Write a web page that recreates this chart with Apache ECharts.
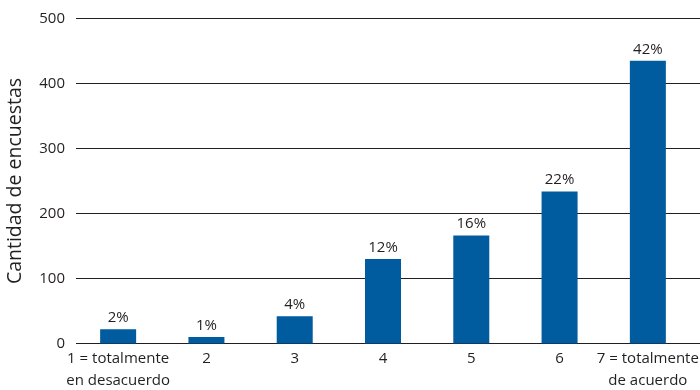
<!DOCTYPE html>
<html><head><meta charset="utf-8">
<script src="https://cdn.jsdelivr.net/npm/echarts@6/dist/echarts.min.js"></script>
<style>html,body{margin:0;padding:0;background:#fff}#c{width:700px;height:390px}</style>
</head><body><div id="c"></div>
<script>
const categories = ['1 = totalmente\nen desacuerdo', '2', '3', '4', '5', '6', '7 = totalmente\nde acuerdo'];
const counts = [22, 10, 42, 130, 166, 234, 435];
const percents = ['2%', '1%', '4%', '12%', '16%', '22%', '42%'];
const yTicks = [0, 100, 200, 300, 400, 500];

const font = '"Open Sans", "Noto Sans", sans-serif';
const chart = echarts.init(document.getElementById('c'));
chart.setOption({
  animation: false,
  grid: [
    {left: 74, right: 8, top: 18.5, bottom: 46.5, outerBoundsMode: 'none', containLabel: false},
    {left: 76, right: 0, top: 18.5, bottom: 46.5, outerBoundsMode: 'none', containLabel: false}
  ],
  xAxis: [
    {type: 'category', gridIndex: 0, data: categories,
     axisLine: {show: false}, axisTick: {show: false},
     axisLabel: {color: '#231f20', fontFamily: font, fontSize: 15, lineHeight: 22, margin: 4, interval: 0}},
    {type: 'value', gridIndex: 1, show: false, min: 0, max: 1}
  ],
  yAxis: [
    {type: 'value', gridIndex: 0, min: yTicks[0], max: yTicks[yTicks.length - 1], interval: 100, show: false},
    {type: 'value', gridIndex: 1, min: yTicks[0], max: yTicks[yTicks.length - 1], interval: 100,
     axisLine: {show: false}, axisTick: {show: false},
     axisLabel: {color: '#231f20', fontFamily: font, fontSize: 15, margin: 11},
     splitLine: {lineStyle: {color: '#231f20', width: 1}},
     name: 'Cantidad de encuestas', nameLocation: 'middle', nameGap: 51,
     nameTextStyle: {color: '#231f20', fontFamily: font, fontSize: 19.5}}
  ],
  series: [{
    type: 'bar', xAxisIndex: 0, yAxisIndex: 0, data: counts, barWidth: 36,
    itemStyle: {color: '#005b9f'}, z: 3,
    label: {show: true, position: 'top', distance: 4, color: '#231f20', fontFamily: font, fontSize: 15,
      formatter: p => percents[p.dataIndex]}
  }]
});
</script></body></html>
